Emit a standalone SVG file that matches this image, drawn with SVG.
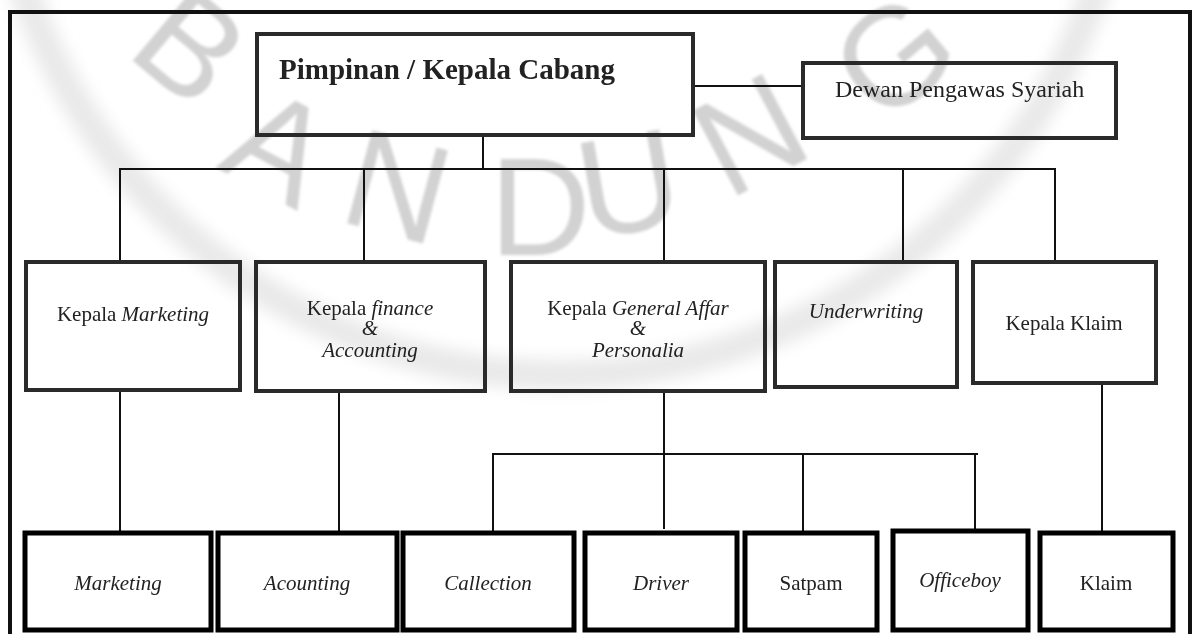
<svg xmlns="http://www.w3.org/2000/svg" width="1194" height="634" viewBox="0 0 1194 634">
<defs>
<filter id="wmblur" x="-20%" y="-20%" width="140%" height="140%"><feGaussianBlur stdDeviation="1.5"/></filter>
<filter id="ringblur" x="-20%" y="-20%" width="140%" height="140%"><feGaussianBlur stdDeviation="8"/></filter>
</defs>
<style>
.wm{font-family:"Liberation Sans",Arial,sans-serif;font-size:140px;fill:#d2d2d2;text-anchor:middle}
.box{fill:none;stroke:#2a2a2a;stroke-width:4}
.boxb{fill:none;stroke:#000;stroke-width:5}
.ln{stroke:#111;stroke-width:2;fill:none}
.t{font-family:"Liberation Serif","Times New Roman",serif;font-size:21px;fill:#222;text-anchor:middle}
.i{font-style:italic}
</style>
<rect x="0" y="0" width="1194" height="634" fill="#fff"/>
<g id="watermark">
<circle cx="560" cy="-190" r="565" fill="none" stroke="#e9e9e9" stroke-width="30" filter="url(#ringblur)"/>
<g filter="url(#wmblur)">
<text class="wm" transform="translate(192,45) rotate(40)" y="50">B</text>
<text class="wm" transform="translate(280,145) rotate(28)" y="50">A</text>
<text class="wm" transform="translate(398,185) rotate(15)" y="50">N</text>
<text class="wm" transform="translate(540,205) rotate(0)" y="50">D</text>
<text class="wm" transform="translate(628,182) rotate(-10)" y="50">U</text>
<text class="wm" transform="translate(749,133) rotate(-28)" y="50">N</text>
<text class="wm" transform="translate(893,55) rotate(-40)" y="50">G</text>
</g>
</g>
<rect id="frame" x="10" y="12" width="1180" height="700" fill="none" stroke="#111" stroke-width="4"/>
<g id="connectors">
<line class="ln" x1="693" y1="86" x2="803" y2="86"/>
<line class="ln" x1="483" y1="136" x2="483" y2="169"/>
<line class="ln" x1="119" y1="169" x2="1056" y2="169"/>
<line class="ln" x1="120" y1="169" x2="120" y2="261"/>
<line class="ln" x1="364" y1="169" x2="364" y2="261"/>
<line class="ln" x1="664" y1="169" x2="664" y2="261"/>
<line class="ln" x1="903" y1="169" x2="903" y2="261"/>
<line class="ln" x1="1055" y1="169" x2="1055" y2="261"/>
<line class="ln" x1="120" y1="390" x2="120" y2="533"/>
<line class="ln" x1="339" y1="393" x2="339" y2="533"/>
<line class="ln" x1="664" y1="391" x2="664" y2="454"/>
<line class="ln" x1="492" y1="454" x2="978" y2="454"/>
<line class="ln" x1="493" y1="454" x2="493" y2="533"/>
<line class="ln" x1="664" y1="454" x2="664" y2="529"/>
<line class="ln" x1="803" y1="454" x2="803" y2="533"/>
<line class="ln" x1="975" y1="454" x2="975" y2="529"/>
<line class="ln" x1="1102" y1="383" x2="1102" y2="533"/>
</g>
<g id="pimpinan">
<rect class="box" x="257" y="34" width="436" height="101"/>
<text x="279" y="79" font-family="Liberation Serif, Times New Roman, serif" font-size="29" font-weight="bold" fill="#222">Pimpinan / Kepala Cabang</text>
</g>
<g id="dewan">
<rect class="box" x="803" y="63" width="313" height="75"/>
<text x="835" y="97" font-family="Liberation Serif, Times New Roman, serif" font-size="24" fill="#222">Dewan Pengawas Syariah</text>
</g>
<g id="kepala-marketing">
<rect class="box" x="26" y="262" width="214" height="128"/>
<text class="t" x="133" y="321">Kepala <tspan class="i">Marketing</tspan></text>
</g>
<g id="kepala-finance">
<rect class="box" x="256" y="262" width="229" height="129"/>
<text class="t" x="370" y="315">Kepala <tspan class="i">finance</tspan></text>
<text class="t i" x="370" y="335">&amp;</text>
<text class="t i" x="370" y="357">Accounting</text>
</g>
<g id="kepala-general">
<rect class="box" x="511" y="262" width="254" height="129"/>
<text class="t" x="638" y="315">Kepala <tspan class="i">General Affar</tspan></text>
<text class="t i" x="638" y="335">&amp;</text>
<text class="t i" x="638" y="357">Personalia</text>
</g>
<g id="underwriting">
<rect class="box" x="775" y="262" width="182" height="125"/>
<text class="t i" x="866" y="318">Underwriting</text>
</g>
<g id="kepala-klaim">
<rect class="box" x="973" y="262" width="183" height="121"/>
<text class="t" x="1064" y="330">Kepala Klaim</text>
</g>
<g id="marketing">
<rect class="boxb" x="25" y="533" width="186" height="97"/>
<text class="t i" x="118" y="590">Marketing</text>
</g>
<g id="acounting">
<rect class="boxb" x="218" y="533" width="179" height="97"/>
<text class="t i" x="307" y="590">Acounting</text>
</g>
<g id="callection">
<rect class="boxb" x="403" y="533" width="171" height="97"/>
<text class="t i" x="488" y="590">Callection</text>
</g>
<g id="driver">
<rect class="boxb" x="585" y="533" width="152" height="97"/>
<text class="t i" x="661" y="590">Driver</text>
</g>
<g id="satpam">
<rect class="boxb" x="745" y="533" width="132" height="97"/>
<text class="t" x="811" y="590">Satpam</text>
</g>
<g id="officeboy">
<rect class="boxb" x="893" y="531" width="135" height="99"/>
<text class="t i" x="960" y="587">Officeboy</text>
</g>
<g id="klaim">
<rect class="boxb" x="1040" y="533" width="133" height="97"/>
<text class="t" x="1106" y="590">Klaim</text>
</g>
</svg>
